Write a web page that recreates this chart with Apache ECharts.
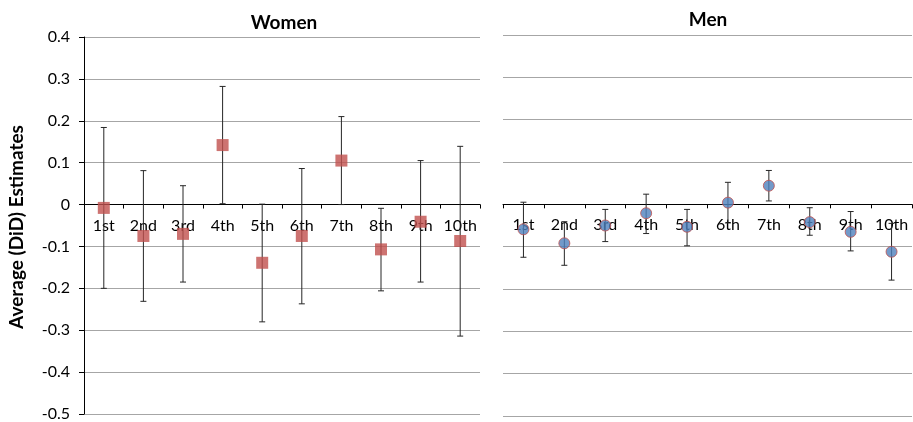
<!DOCTYPE html>
<html>
<head>
<meta charset="utf-8">
<script src="https://cdn.jsdelivr.net/npm/echarts@6/dist/echarts.min.js"></script>
<style>
  html, body { margin: 0; padding: 0; background: #fff; }
  #chart { width: 913px; height: 422px; }
</style>
</head>
<body>
<div id="chart"></div>
<script>
// Deciles shown on both panels
const deciles = ['1st', '2nd', '3rd', '4th', '5th', '6th', '7th', '8th', '9th', '10th'];

// Women: point estimates with lower / upper confidence bounds
const womenEst   = [-0.008, -0.075, -0.070, 0.142, -0.139, -0.075, 0.105, -0.107, -0.041, -0.087];
const womenLower = [-0.200, -0.231, -0.185, 0.002, -0.280, -0.237, 0.000, -0.206, -0.185, -0.314];
const womenUpper = [ 0.184,  0.081,  0.045, 0.282,  0.001,  0.086, 0.210, -0.009,  0.105,  0.139];

// Men: point estimates with lower / upper confidence bounds
const menEst   = [-0.059, -0.092, -0.050, -0.021, -0.053, 0.004, 0.044, -0.042, -0.065, -0.112];
const menLower = [-0.125, -0.144, -0.088, -0.069, -0.098, -0.044, 0.008, -0.073, -0.110, -0.179];
const menUpper = [ 0.005, -0.041, -0.012,  0.024, -0.012, 0.052, 0.080, -0.008, -0.017, -0.045];

// Value axis ticks
const yMin = -0.5, yMax = 0.4, yStep = 0.1;

const FONT = 'Lato, "Open Sans", sans-serif';

// Panel boxes
const panels = [
  { left: 84, width: 396, top: 37, height: 377 },
  { left: 503, width: 409, top: 35, height: 381 }
];

function errorData(lower, upper) {
  return deciles.map((d, i) => [i, lower[i], upper[i]]);
}

// Vertical whisker with short caps at both ends
function renderWhisker(params, api) {
  const x = api.value(0);
  const lo = api.coord([x, api.value(1)]);
  const hi = api.coord([x, api.value(2)]);
  const cap = 3;
  const style = { stroke: '#262626', lineWidth: 1 };
  return {
    type: 'group',
    children: [
      { type: 'line', shape: { x1: lo[0], y1: hi[1], x2: lo[0], y2: lo[1] }, style },
      { type: 'line', shape: { x1: lo[0] - cap, y1: hi[1], x2: lo[0] + cap, y2: hi[1] }, style },
      { type: 'line', shape: { x1: lo[0] - cap, y1: lo[1], x2: lo[0] + cap, y2: lo[1] }, style }
    ]
  };
}

// Category axis placed on the zero line of the value axis
function categoryAxis(gridIndex) {
  const h = panels[gridIndex].height;
  return {
    type: 'category',
    gridIndex,
    data: deciles,
    boundaryGap: true,
    position: 'bottom',
    offset: -h * (0 - yMin) / (yMax - yMin),
    axisLine: { onZero: false, lineStyle: { color: '#000', width: 1 } },
    axisTick: { show: true, length: 4, inside: false, lineStyle: { color: '#000' } },
    axisLabel: { color: '#000', fontSize: 16, fontFamily: FONT, margin: 13, interval: 0 },
    splitLine: { show: false }
  };
}

function valueAxis(gridIndex, showLabels) {
  return {
    type: 'value',
    gridIndex,
    min: yMin,
    max: yMax,
    interval: yStep,
    axisLine: { show: showLabels, lineStyle: { color: '#000', width: 1 } },
    axisTick: { show: showLabels, length: 5, lineStyle: { color: '#000' } },
    axisLabel: {
      show: showLabels,
      color: '#000',
      fontSize: 16,
      fontFamily: FONT,
      margin: 14,
      formatter: v => {
        const r = Math.round(v * 10) / 10;
        return r === 0 ? '0' : String(r);
      }
    },
    splitLine: { show: true, lineStyle: { color: '#a6a6a6', width: 1 } }
  };
}

const chart = echarts.init(document.getElementById('chart'), null, { renderer: 'canvas' });

chart.setOption({
  backgroundColor: '#fff',
  animation: false,
  title: [
    { text: 'Women', left: 279, top: 8, textAlign: 'center',
      textStyle: { fontSize: 19, fontWeight: 'bold', color: '#000', fontFamily: FONT } },
    { text: 'Men', left: 703, top: 5, textAlign: 'center',
      textStyle: { fontSize: 19, fontWeight: 'bold', color: '#000', fontFamily: FONT } }
  ],
  graphic: [
    {
      type: 'text',
      x: 17, y: 227,
      rotation: Math.PI / 2,
      style: {
        text: 'Average (DiD) Estimates',
        fontSize: 19, fontWeight: 'bold', fontFamily: FONT, fill: '#000',
        align: 'center', verticalAlign: 'middle'
      }
    }
  ],
  grid: panels.map(p => Object.assign({ outerBoundsMode: 'none', containLabel: false }, p)),
  xAxis: [categoryAxis(0), categoryAxis(1)],
  yAxis: [valueAxis(0, true), valueAxis(1, false)],
  series: [
    {
      name: 'Women CI',
      type: 'custom',
      xAxisIndex: 0, yAxisIndex: 0,
      renderItem: renderWhisker,
      data: errorData(womenLower, womenUpper),
      encode: { x: 0, y: [1, 2] },
      z: 3
    },
    {
      name: 'Women',
      type: 'scatter',
      xAxisIndex: 0, yAxisIndex: 0,
      symbol: 'rect',
      symbolSize: 12,
      itemStyle: { color: '#C0504D' },
      data: womenEst,
      z: 4
    },
    {
      name: 'Men CI',
      type: 'custom',
      xAxisIndex: 1, yAxisIndex: 1,
      renderItem: renderWhisker,
      data: errorData(menLower, menUpper),
      encode: { x: 0, y: [1, 2] },
      z: 3
    },
    {
      name: 'Men',
      type: 'scatter',
      xAxisIndex: 1, yAxisIndex: 1,
      symbol: 'circle',
      symbolSize: 11,
      itemStyle: { color: '#4F81BD', borderColor: '#C0504D', borderWidth: 1 },
      data: menEst,
      z: 4
    }
  ]
});
</script>
</body>
</html>
